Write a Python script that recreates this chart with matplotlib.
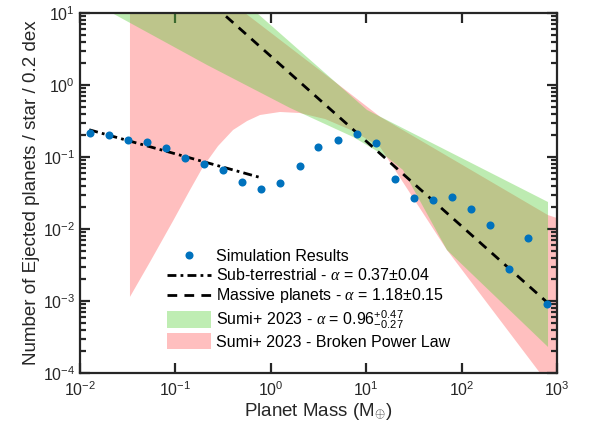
import numpy as np
import matplotlib
matplotlib.use("Agg")
import matplotlib.pyplot as plt
from matplotlib.font_manager import FontProperties
from matplotlib.ticker import FixedLocator, FuncFormatter, LogLocator, NullFormatter, NullLocator
from matplotlib.lines import Line2D
from matplotlib.patches import Patch, Rectangle
from matplotlib.legend_handler import HandlerPatch

plt.rcParams['font.family'] = ['Liberation Sans', 'DejaVu Sans']
plt.rcParams['mathtext.fontset'] = 'custom'
plt.rcParams['mathtext.rm'] = 'Liberation Sans'
plt.rcParams['mathtext.it'] = 'Liberation Serif:italic'
plt.rcParams['mathtext.sf'] = 'Liberation Sans'

# ---------------- data ----------------
sim_mass = [0.0127, 0.0201, 0.0318, 0.0503, 0.0796, 0.127, 0.201, 0.318, 0.502, 0.794,
            1.26, 2.0, 3.16, 5.01, 7.94, 12.6, 20.0, 31.6, 50.1, 79.4,
            126, 200, 316, 501, 794]
sim_rate = [0.213, 0.204, 0.171, 0.160, 0.135, 0.0968, 0.0792, 0.0667, 0.0445, 0.036,
            0.0435, 0.075, 0.138, 0.172, 0.211, 0.156, 0.050, 0.0272, 0.0253, 0.0278,
            0.019, 0.0112, 0.00275, 0.00757, 0.0009]

sub_alpha, sub_norm = 0.37, 0.0472      # y = norm * M^-alpha
sub_range = [0.0125, 0.80]
mas_alpha, mas_norm = 1.18, 2.51
mas_range = [0.25, 800]

# Sumi+ 2023 single power law band (edges)
green_hi_x = [0.0216, 0.716, 10.2, 805]
green_hi_y = [602.0, 10.0, 0.45, 0.0237]
green_lo_x = [0.0216, 0.214, 1.59, 7.28, 16.5, 24.3, 70.3, 805]
green_lo_y = [10.0, 1.90, 0.48, 0.19, 0.10, 0.066, 0.0051, 0.00023]

# Sumi+ 2023 broken power law band
pink_hi_x = [0.0334, 0.537, 4.91, 13.96, 805, 1000]
pink_hi_y = [170.0, 10.0, 1.057, 0.363, 0.0156, 0.0142]
pink_lo_x = [0.0334, 0.0542, 0.0944, 0.1422, 0.1946, 0.280, 0.402, 0.564, 0.771, 1.248,
             2.02, 3.70, 7.28, 13.96, 70.3, 664, 1000]
pink_lo_y = [0.00114, 0.00348, 0.0129, 0.0348, 0.0727, 0.142, 0.237, 0.316, 0.383, 0.422,
             0.408, 0.337, 0.230, 0.138, 0.0051, 0.0001, 0.0000494]

xticks = [1e-2, 1e-1, 1e0, 1e1, 1e2, 1e3]
yticks = [1e-4, 1e-3, 1e-2, 1e-1, 1e0, 1e1]

# ---------------- figure ----------------
fig = plt.figure(figsize=(5.89, 4.45), dpi=100)
ax = fig.add_axes([80/589, 1-373/445, 477/589, 360/445])
ax.set_xscale('log')
ax.set_yscale('log')
ax.set_xlim(1e-2, 1e3)
ax.set_ylim(1e-4, 1e1)

pink_col = (1.0, 0.0, 0.0, 0.25)
green_col = (0.36, 0.81, 0.245, 0.40)

ax.fill(np.r_[pink_hi_x, pink_lo_x[::-1]], np.r_[pink_hi_y, pink_lo_y[::-1]],
        color=pink_col, lw=0, zorder=1)
ax.fill(np.r_[green_hi_x, green_lo_x[::-1]], np.r_[green_hi_y, green_lo_y[::-1]],
        color=green_col, lw=0, zorder=2)

dd = (3.2, 1.5, 1.0, 1.5)
dsh = (3.5, 2.6)
xs = np.array(sub_range)
ax.plot(xs, sub_norm * xs**(-sub_alpha), color='k', lw=2, dashes=dd, zorder=3)
xm = np.array(mas_range)
ax.plot(xm, mas_norm * xm**(-mas_alpha), color='k', lw=2, dashes=dsh, zorder=3)

ax.plot(sim_mass, sim_rate, 'o', color='#0072BD', ms=5.8, mew=0, zorder=4)

# legend
def tall_rect(legend, orig_handle, xdescent, ydescent, width, height, fontsize):
    return Rectangle((-xdescent, -ydescent - 0.2 * height), width, 1.45 * height)

h = [Line2D([], [], ls='none', marker='o', color='#0072BD', ms=5.8, mew=0),
     Line2D([], [], color='k', lw=2, dashes=dd),
     Line2D([], [], color='k', lw=2, dashes=dsh),
     Patch(facecolor=(0.75, 0.93, 0.70), edgecolor='none'),
     Patch(facecolor=(1.0, 0.75, 0.75), edgecolor='none')]
labels = ['Simulation Results',
          r'Sub-terrestrial - $\mathit{\alpha}$ = 0.37$\pm$0.04',
          r'Massive planets - $\mathit{\alpha}$ = 1.18$\pm$0.15',
          r'Sumi+ 2023 - $\mathit{\alpha}$ = 0.96$^{+0.47}_{-0.27}$',
          'Sumi+ 2023 - Broken Power Law']
lp = FontProperties(family='Liberation Sans', size=11.5)
leg = ax.legend(h, labels, loc='upper left', bbox_to_anchor=(0.17, 0.362), frameon=False,
                prop=lp, handlelength=2.75, handletextpad=0.3, labelspacing=0.2,
                borderaxespad=0,
                handler_map={Patch: HandlerPatch(patch_func=tall_rect)})

axc = '#262626'
for s in ax.spines.values():
    s.set_linewidth(1.6)
    s.set_color(axc)
ax.xaxis.set_major_locator(FixedLocator(xticks))
ax.xaxis.set_minor_locator(NullLocator())
ax.yaxis.set_major_locator(FixedLocator(yticks))
ax.yaxis.set_minor_locator(LogLocator(base=10, subs=np.arange(2, 10)))
ax.yaxis.set_minor_formatter(NullFormatter())
fmt = FuncFormatter(lambda v, p: r'$\mathregular{10^{%d}}$' % int(round(np.log10(v))))
ax.xaxis.set_major_formatter(fmt)
ax.yaxis.set_major_formatter(fmt)
ax.tick_params(which='both', direction='in', top=True, right=True, colors=axc,
               labelcolor='#262626', labelsize=11.5, width=1.6)
ax.tick_params(which='major', length=7)
ax.tick_params(which='minor', length=4)
ax.tick_params(axis='x', pad=5)

ax.set_xlabel(r'Planet Mass (M$_{\oplus}$)', fontsize=13.5, color='#262626', labelpad=2)
ax.set_ylabel('Number of Ejected planets / star / 0.2 dex', fontsize=13.5, color='#262626', labelpad=2)

fig.savefig('out.png', dpi=100)
